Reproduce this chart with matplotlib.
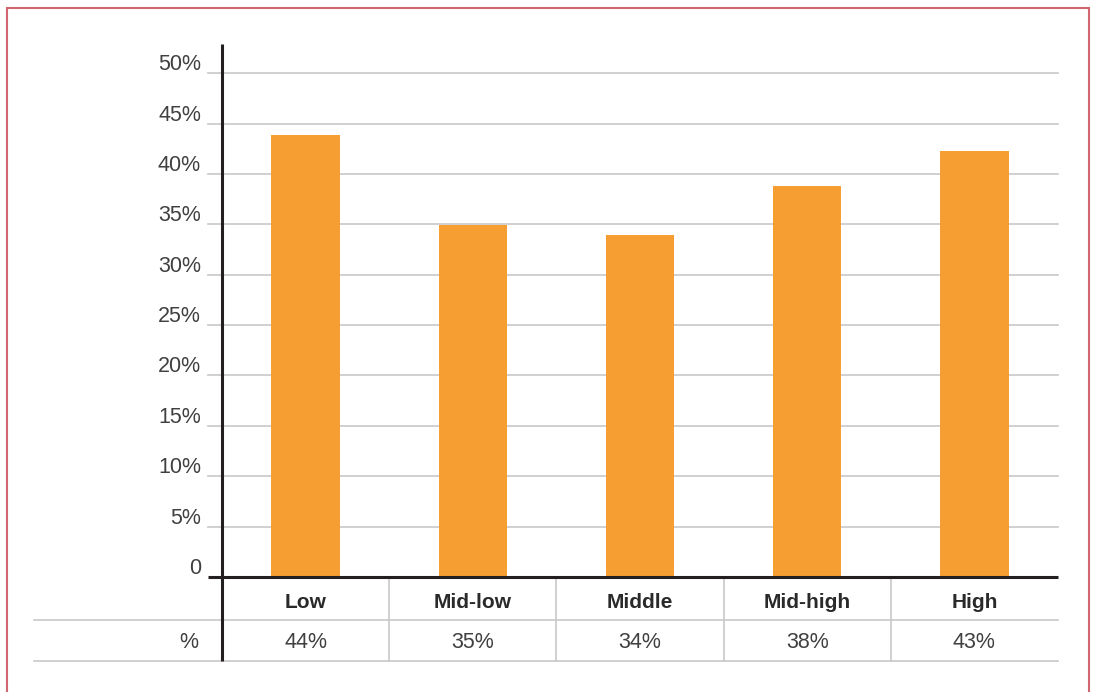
import matplotlib.pyplot as plt
from matplotlib.patches import Rectangle

plt.rcParams['font.family'] = ['Liberation Sans', 'DejaVu Sans']

# data
groups = ['Low', 'Mid-low', 'Middle', 'Mid-high', 'High']
shares = [43.9, 34.9, 33.9, 38.8, 42.3]
share_labels = ['44%', '35%', '34%', '38%', '43%']
yticks = [0, 5, 10, 15, 20, 25, 30, 35, 40, 45, 50]
ytick_labels = ['0', '5%', '10%', '15%', '20%', '25%', '30%', '35%', '40%', '45%', '50%']

W, H = 1093, 692
bar_col = '#f79e32'
grid_col = '#c8c8c8'
axis_col = '#231f20'
txt_col = '#404040'

fig = plt.figure(figsize=(W / 100, H / 100), dpi=100)

# red frame round the figure
fig.patches.append(Rectangle((7 / W, -0.05), (1089 - 7) / W, (H - 8) / H + 0.05,
                             transform=fig.transFigure, fill=False,
                             edgecolor='#d06670', linewidth=1.5))

# chart area in pixels: x 222..1058, y 44..577
ax = fig.add_axes([222 / W, (H - 577) / H, (1058 - 222) / W, (577 - 44) / H])
x = list(range(len(groups)))
ax.bar(x, shares, width=0.41, color=bar_col, zorder=3)
ax.set_xlim(-0.5, len(groups) - 0.5)
ppu = (577 - 44) / 52.9  # pixels per percent
ax.set_ylim(0, 52.9)

for s in ['top', 'right', 'bottom', 'left']:
    ax.spines[s].set_visible(False)
ax.set_xticks([])
ax.set_yticks([])

upx = (1058 - 222) / len(groups)  # pixels per column
left_grid = -0.5 - 14 / upx
for v, lab in zip(yticks, ytick_labels):
    if v > 0:
        ax.plot([left_grid, len(groups) - 0.5], [v, v], color=grid_col, lw=1.2,
                zorder=1, clip_on=False)
    ax.text(-0.5 - 21 / upx, v + 8.5 / ppu, lab, ha='right', va='center',
            fontsize=15.5, color=txt_col, clip_on=False)

# axis lines
ax.plot([left_grid, len(groups) - 0.5], [0, 0], color=axis_col, lw=2.2,
        zorder=4, clip_on=False, solid_capstyle='butt')
bottom = -(661 - 577) / ppu
ax.plot([-0.5, -0.5], [bottom, 52.9], color=axis_col, lw=2.2, zorder=4,
        clip_on=False, solid_capstyle='butt')

# table under the chart
row_line = -(620 - 577) / ppu
far_left = -0.5 - (222 - 34) / upx
for yy in [row_line, bottom]:
    ax.plot([far_left, len(groups) - 0.5], [yy, yy], color=grid_col, lw=1.2,
            clip_on=False)
for i in range(1, len(groups)):
    ax.plot([i - 0.5, i - 0.5], [0, bottom], color=grid_col, lw=1.2, clip_on=False)

for i, (g, lab) in enumerate(zip(groups, share_labels)):
    ax.text(i, -(602 - 577) / ppu, g, ha='center', va='center', fontsize=15,
            fontweight='bold', color='#2a2a2a', clip_on=False)
    ax.text(i, -(643 - 577) / ppu, lab, ha='center', va='center', fontsize=15.5,
            color=txt_col, clip_on=False)
ax.text(-0.5 - 24 / upx, -(643 - 577) / ppu, '%', ha='right', va='center',
        fontsize=15.5, color=txt_col, clip_on=False)

fig.savefig('out.png', dpi=100)
